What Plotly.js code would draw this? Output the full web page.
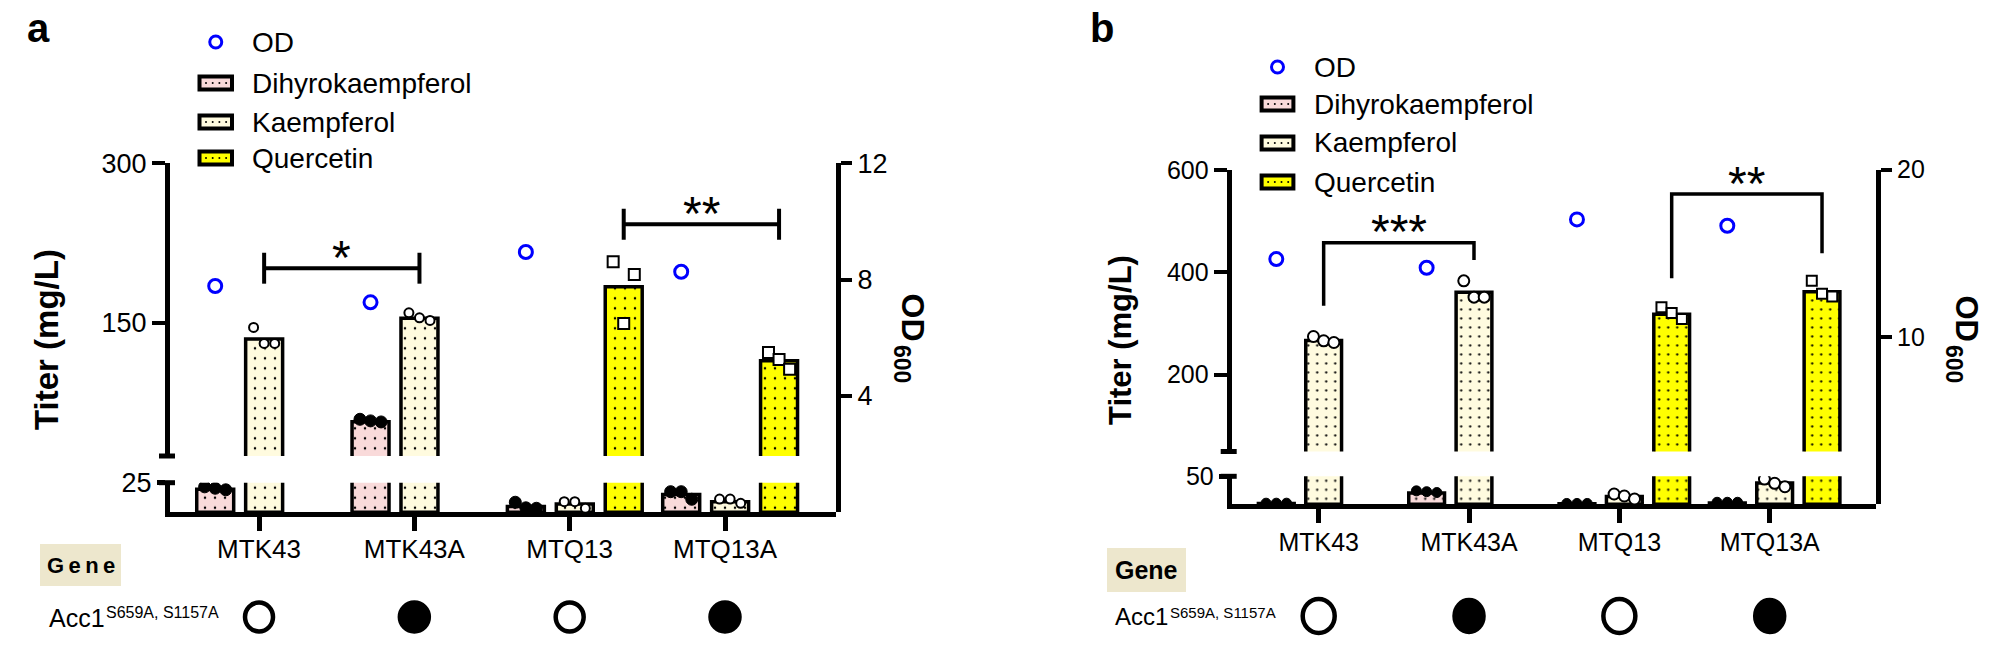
<!DOCTYPE html>
<html>
<head>
<meta charset="utf-8">
<script src="https://cdn.plot.ly/plotly-3.0.1.min.js"></script>
<style>
html,body{margin:0;padding:0;background:#ffffff;}
#chart{width:2008px;height:668px;}
</style>
</head>
<body>
<div id="chart"></div>
<script>
// ---------------- data ----------------
const strains = ['MTK43', 'MTK43A', 'MTQ13', 'MTQ13A'];
const acc1Mutant = [false, true, false, true];
const seriesNames = ['Dihyrokaempferol', 'Kaempferol', 'Quercetin'];

// panel a : titer (mg/L), bars = mean, reps = replicates (left, middle, right)
const aDihydro = [19.5, 57.2, 5, 15];
const aKaempferol = [135, 154.5, 7, 9];
const aQuercetin = [null, null, 184, 114.5];
const aDihydroReps = [[21.5, 20.3, 19], [59.5, 58, 57], [8.5, 3.8, 3.4], [17.4, 17.4, 11]];
const aKaempferolReps = [[145.8, 130.8, 130.8], [159.5, 154.8, 152.4], [9, 9, 3.4], [11.2, 11.2, 7.6]];
const aQuercetinReps = [null, null, [207.4, 149.5, 195.5], [122.3, 115.7, 106.4]];
const aOD = [7.78, 7.22, 8.95, 8.27];
const aSigFrom = [0, 2];
const aSigTo = [1, 3];
const aSigSeries = [1, 2];
const aSigY = [201.4, 242.7];
const aSigLabel = ['*', '**'];

// panel b
const bDihydro = [1.5, 20, 1, 2.5];
const bKaempferol = [267, 361, 14, 38];
const bQuercetin = [null, null, 318.4, 362];
const bDihydroReps = [[2, 2, 2], [24, 22.5, 21], [1.5, 1.5, 1.5], [3.6, 3.6, 3.6]];
const bKaempferolReps = [[274.7, 266.3, 263], [383.4, 351.6, 351.6], [18.4, 14.8, 9.5], [45, 37.5, 31.4]];
const bQuercetinReps = [null, null, [332, 320.4, 308.7], [383.4, 358, 352.8]];
const bOD = [14.65, 14.13, 17.02, 16.64];
const bSigFrom = [0, 2];
const bSigTo = [1, 3];
const bSigSeries = [1, 2];
const bSigY = [458, 553];
const bSigLegLeft = [334.6, 388.7];
const bSigLegRight = [424.4, 437.5];
const bSigLabel = ['***', '**'];

// ---------------- styling / geometry ----------------
const W = 2008, H = 668;
const PX = x => x / W;
const PY = y => 1 - y / H;
const FONT = 'Arial, "Liberation Sans", Helvetica, sans-serif';
const SLOT = 0.315, BARW = 0.238, SHIFT = 0.033, JIT = 0.068;
const fillColors = ['#F9DADA', '#FFFBDF', '#FFFF00'];
const OD_BLUE = '#0000FF';

const PANELS = [
  {
    letter: 'a', letterX: 25,
    xa: 'x', yLow: 'y', yUp: 'y2', yOd: 'y3',
    xDom: [170, 836], xRange: [-0.573, 3.7146],
    lowDom: [512.3, 482.7], upDom: [456, 163.3], odTop: 163.3,
    lowRange: [0, 25], upRange: [25, 300], odRange: [0, 12],
    lowTicks: [25], upTicks: [150, 300], odTicks: [4, 8, 12],
    tickFont: 27, xTickFont: 26, xLabelShift: -5,
    series: [aDihydro, aKaempferol, aQuercetin],
    reps: [aDihydroReps, aKaempferolReps, aQuercetinReps],
    od: aOD,
    sig: {from: aSigFrom, to: aSigTo, series: aSigSeries, y: aSigY, label: aSigLabel},
    bracket: 'ibeam', capHalf: 14.5,
    titerX: 46, titerFont: 33,
    odTitle: {x: 913, y: 317.5, font: 32, subX: 902, subY: 364, subFont: 23},
    legend: {x0: 197.5, x1: 234, odY: 42, rows: [83, 122, 158], textX: 250, font: 28},
    gene: {x0: 40, x1: 121, y0: 544, y1: 586, text: 'G\u2009e\u2009n\u2009e', font: 22},
    acc: {x: 47, y: 617.5, font: 25, supX: 104, supY: 612.5, supFont: 16},
    tableY: 617, circOpen: [14, 14.5], circFill: [14.5, 14.5],
    repSizes: [12, 9, 11], patSize: 10, odSize: 13
  },
  {
    letter: 'b', letterX: 1088,
    xa: 'x2', yLow: 'y4', yUp: 'y5', yOd: 'y6',
    xDom: [1231.7, 1876], xRange: [-0.5787, 3.7071],
    lowDom: [504.3, 476.3], upDom: [451.5, 170], odTop: 169.5,
    lowRange: [0, 50], upRange: [50, 600], odRange: [0, 20],
    lowTicks: [50], upTicks: [200, 400, 600], odTicks: [10, 20],
    tickFont: 25, xTickFont: 25, xLabelShift: -2,
    series: [bDihydro, bKaempferol, bQuercetin],
    reps: [bDihydroReps, bKaempferolReps, bQuercetinReps],
    od: bOD,
    sig: {from: bSigFrom, to: bSigTo, series: bSigSeries, y: bSigY, label: bSigLabel,
          legL: bSigLegLeft, legR: bSigLegRight},
    bracket: 'legs',
    titerX: 1120, titerFont: 31,
    odTitle: {x: 1966, y: 318.5, font: 31, subX: 1954, subY: 364, subFont: 23},
    legend: {x0: 1259.6, x1: 1295.4, odY: 67, rows: [104, 143, 182], textX: 1312, font: 28},
    gene: {x0: 1107, x1: 1186, y0: 548, y1: 592, text: 'Gene', font: 25},
    acc: {x: 1113, y: 616.5, font: 24, supX: 1168, supY: 612, supFont: 15},
    tableY: 616, circOpen: [16, 17], circFill: [14.5, 16],
    repSizes: [10, 11, 10], patSize: 9, odSize: 13
  }
];

const traces = [];
const shapes = [];
const annotations = [];
const layout = {
  width: W, height: H,
  margin: {l: 0, r: 0, t: 0, b: 0},
  paper_bgcolor: '#ffffff',
  plot_bgcolor: 'rgba(0,0,0,0)',
  barmode: 'overlay',
  showlegend: false,
  hovermode: false,
  font: {family: FONT, size: 24, color: '#000000'}
};

function axisBase() {
  return {showgrid: false, zeroline: false, showline: true, linecolor: '#000', linewidth: 5,
          ticks: 'outside', tickcolor: '#000', fixedrange: true};
}
const axName = (id) => (id.length === 1 ? id + 'axis' : id[0] + 'axis' + id.slice(1));

function note(o) {
  return Object.assign({xref: 'paper', yref: 'paper', showarrow: false, xanchor: 'center',
                        yanchor: 'middle', font: {family: FONT, size: 20, color: '#000'}}, o);
}

PANELS.forEach((P) => {
  const idx = strains.map((_, i) => i);
  // ---- axes ----
  layout[axName(P.xa)] = Object.assign(axisBase(), {
    domain: [PX(P.xDom[0]), PX(P.xDom[1])], range: P.xRange, anchor: P.yLow,
    tickvals: idx, ticktext: strains, ticklen: 14, tickwidth: 5, ticklabelstandoff: P.xLabelShift,
    tickfont: {size: P.xTickFont, family: FONT, color: '#000'}
  });
  layout[axName(P.yLow)] = Object.assign(axisBase(), {
    domain: [PY(P.lowDom[0]), PY(P.lowDom[1])], range: P.lowRange, anchor: P.xa,
    tickvals: P.lowTicks, ticklen: 8, tickwidth: 5,
    tickfont: {size: P.tickFont, family: FONT, color: '#000'}
  });
  layout[axName(P.yUp)] = Object.assign(axisBase(), {
    domain: [PY(P.upDom[0]), PY(P.upDom[1])], range: P.upRange, anchor: P.xa,
    tickvals: P.upTicks, ticklen: 13, tickwidth: 4,
    tickfont: {size: P.tickFont, family: FONT, color: '#000'}
  });
  layout[axName(P.yOd)] = Object.assign(axisBase(), {
    domain: [PY(P.lowDom[0]), PY(P.odTop)], range: P.odRange, anchor: P.xa, side: 'right',
    tickvals: P.odTicks, ticklen: 11, tickwidth: 4,
    tickfont: {size: P.tickFont, family: FONT, color: '#000'}
  });

  // ---- bars + replicate points, drawn in both segments of the broken axis ----
  const repMarkers = [
    {symbol: 'circle', size: P.repSizes[0], color: '#000', line: {color: '#000', width: 1}},
    {symbol: 'circle', size: P.repSizes[1], color: '#fff', line: {color: '#000', width: 2}},
    {symbol: 'square', size: P.repSizes[2], color: '#fff', line: {color: '#000', width: 2}}
  ];
  const segments = [
    {ya: P.yLow, keep: v => v <= P.lowRange[1]},
    {ya: P.yUp, keep: v => v >= P.upRange[0]}
  ];
  segments.forEach((seg) => {
    P.series.forEach((vals, s) => {
      const off = SHIFT + (s - 1) * SLOT;
      traces.push({
        type: 'bar', name: seriesNames[s], x: idx.map(i => i + off), y: vals, width: BARW,
        xaxis: P.xa, yaxis: seg.ya, showlegend: false, hoverinfo: 'skip',
        marker: {color: fillColors[s], line: {color: '#000', width: 3.5},
                 pattern: {shape: '.', size: P.patSize, solidity: 0.05, fgcolor: '#000',
                           bgcolor: fillColors[s], fgopacity: 1, fillmode: 'replace'}}
      });
    });
    P.series.forEach((vals, s) => {
      const off = SHIFT + (s - 1) * SLOT;
      const rx = [], ry = [];
      P.reps[s].forEach((r, i) => {
        if (!r) return;
        r.forEach((v, k) => {
          if (!seg.keep(v)) return;
          rx.push(i + off + (k - 1) * JIT); ry.push(v);
        });
      });
      traces.push({type: 'scatter', mode: 'markers', x: rx, y: ry, xaxis: P.xa, yaxis: seg.ya,
                   marker: repMarkers[s], showlegend: false, hoverinfo: 'skip'});
    });
  });
  // ---- OD600 ----
  traces.push({type: 'scatter', mode: 'markers', name: 'OD', x: idx.map(i => i + SHIFT - SLOT), y: P.od,
               xaxis: P.xa, yaxis: P.yOd, showlegend: false, hoverinfo: 'skip',
               marker: {symbol: 'circle-open', size: P.odSize, color: OD_BLUE, line: {color: OD_BLUE, width: 3}}});

  // ---- axis break caps ----
  const axX = P.xDom[0];
  [P.upDom[0], P.lowDom[1]].forEach((yy) => {
    shapes.push({type: 'line', xref: 'paper', yref: 'paper', x0: PX(axX - 11), x1: PX(axX + 5),
                 y0: PY(yy), y1: PY(yy), line: {color: '#000', width: 5}});
  });

  // ---- significance brackets ----
  const S = P.sig;
  S.from.forEach((f, j) => {
    const off = SHIFT + (S.series[j] - 1) * SLOT;
    const x0 = f + off, x1 = S.to[j] + off, y = S.y[j];
    if (P.bracket === 'ibeam') {
      shapes.push({type: 'line', xref: P.xa, yref: P.yUp, x0: x0, x1: x1, y0: y, y1: y, line: {color: '#000', width: 4}});
      [x0, x1].forEach((xx) => shapes.push({type: 'line', xref: P.xa, yref: P.yUp, x0: xx, x1: xx,
        y0: y - P.capHalf, y1: y + P.capHalf, line: {color: '#000', width: 4}}));
    } else {
      shapes.push({type: 'path', xref: P.xa, yref: P.yUp,
        path: 'M' + x0 + ',' + S.legL[j] + ' L' + x0 + ',' + y + ' L' + x1 + ',' + y + ' L' + x1 + ',' + S.legR[j],
        line: {color: '#000', width: 3.5}});
    }
    annotations.push({xref: P.xa, yref: P.yUp, x: (x0 + x1) / 2, y: y, yshift: 11, showarrow: false,
      text: S.label[j], xanchor: 'center', yanchor: 'middle',
      font: {family: FONT, size: 48, color: '#000'}});
  });

  // ---- panel letter and axis titles ----
  annotations.push(note({x: PX(P.letterX), y: PY(28), xanchor: 'left', text: '<b>' + P.letter + '</b>',
                         font: {family: FONT, size: 40, color: '#000'}}));
  annotations.push(note({x: PX(P.titerX), y: PY(340), text: '<b>Titer (mg/L)</b>', textangle: -90,
                         font: {family: FONT, size: P.titerFont, color: '#000'}}));
  const T = P.odTitle;
  annotations.push(note({x: PX(T.x), y: PY(T.y), text: '<b>OD</b>', textangle: 90,
                         font: {family: FONT, size: T.font, color: '#000'}}));
  annotations.push(note({x: PX(T.subX), y: PY(T.subY), text: '<b>600</b>', textangle: 90,
                         font: {family: FONT, size: T.subFont, color: '#000'}}));

  // ---- legend ----
  const L = P.legend;
  const lcx = (L.x0 + L.x1) / 2;
  shapes.push({type: 'circle', xref: 'paper', yref: 'paper', x0: PX(lcx - 6), x1: PX(lcx + 6),
               y0: PY(L.odY + 6), y1: PY(L.odY - 6), line: {color: OD_BLUE, width: 3}, fillcolor: 'rgba(0,0,0,0)'});
  annotations.push(note({x: PX(L.textX), y: PY(L.odY), xanchor: 'left', text: 'OD',
                         font: {family: FONT, size: L.font, color: '#000'}}));
  L.rows.forEach((ry, s) => {
    shapes.push({type: 'rect', xref: 'paper', yref: 'paper', x0: PX(L.x0 + 2), x1: PX(L.x1 - 2),
                 y0: PY(ry + 6.5), y1: PY(ry - 6.5), fillcolor: fillColors[s], line: {color: '#000', width: 4}});
    for (let d = 0; d < 4; d++) {
      const dx = L.x0 + 8.5 + d * 6.7;
      shapes.push({type: 'circle', xref: 'paper', yref: 'paper', x0: PX(dx - 1), x1: PX(dx + 1),
                   y0: PY(ry + 1), y1: PY(ry - 1), fillcolor: '#000', line: {width: 0}});
    }
    annotations.push(note({x: PX(L.textX), y: PY(ry), xanchor: 'left', text: seriesNames[s],
                           font: {family: FONT, size: L.font, color: '#000'}}));
  });

  // ---- genotype table ----
  const G = P.gene;
  shapes.push({type: 'rect', xref: 'paper', yref: 'paper', x0: PX(G.x0), x1: PX(G.x1), y0: PY(G.y1), y1: PY(G.y0),
               fillcolor: '#EDE7CD', line: {width: 0}, layer: 'below'});
  annotations.push(note({x: PX((G.x0 + G.x1) / 2), y: PY((G.y0 + G.y1) / 2), text: '<b>' + G.text + '</b>',
                         font: {family: FONT, size: G.font, color: '#000'}}));
  const A = P.acc;
  annotations.push(note({x: PX(A.x), y: PY(A.y), xanchor: 'left', text: 'Acc1',
                         font: {family: FONT, size: A.font, color: '#000'}}));
  annotations.push(note({x: PX(A.supX), y: PY(A.supY), xanchor: 'left', text: 'S659A, S1157A',
                         font: {family: FONT, size: A.supFont, color: '#000'}}));
  acc1Mutant.forEach((m, i) => {
    const r = m ? P.circFill : P.circOpen;
    shapes.push({type: 'circle', xref: P.xa, yref: 'paper', xsizemode: 'pixel', ysizemode: 'pixel',
                 xanchor: i, yanchor: PY(P.tableY), x0: -r[0], x1: r[0], y0: -r[1], y1: r[1],
                 fillcolor: m ? '#000' : '#fff', line: {color: '#000', width: 4.5}});
  });
});

layout.shapes = shapes;
layout.annotations = annotations;

Plotly.newPlot('chart', traces, layout, {displayModeBar: false, staticPlot: true});
</script>
</body>
</html>
